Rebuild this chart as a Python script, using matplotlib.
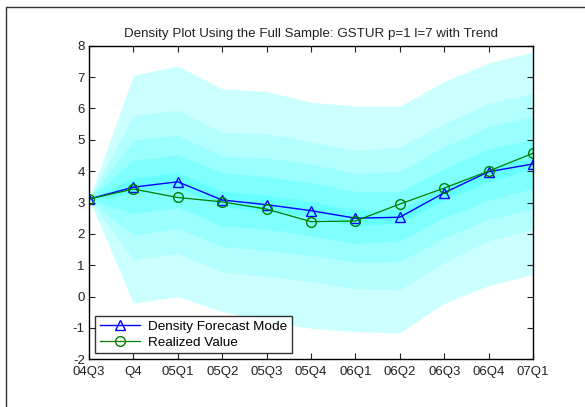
import matplotlib
matplotlib.use('Agg')
import matplotlib.pyplot as plt
from matplotlib.patches import Rectangle
import numpy as np

plt.rcParams['font.family'] = ['Liberation Sans', 'DejaVu Sans']
plt.rcParams['axes.unicode_minus'] = False

quarters = ['04Q3', 'Q4', '05Q1', '05Q2', '05Q3', '05Q4', '06Q1', '06Q2', '06Q3', '06Q4', '07Q1']

# fan band edges, outermost first (upper / lower)
upper_bands = [
    [3.1, 7.06, 7.35, 6.62, 6.54, 6.20, 6.07, 6.07, 6.86, 7.45, 7.80],
    [3.1, 5.78, 5.94, 5.24, 5.20, 4.93, 4.66, 4.78, 5.52, 6.16, 6.48],
    [3.1, 4.99, 5.14, 4.48, 4.42, 4.22, 3.93, 3.99, 4.78, 5.41, 5.75],
    [3.1, 4.35, 4.51, 3.94, 3.83, 3.62, 3.35, 3.35, 4.09, 4.70, 5.02],
    [3.1, 3.78, 3.96, 3.35, 3.24, 3.03, 2.76, 2.76, 3.50, 4.09, 4.46],
]
lower_bands = [
    [3.1, -0.21, 0.0, -0.48, -0.78, -1.01, -1.12, -1.16, -0.21, 0.35, 0.71],
    [3.1, 1.18, 1.38, 0.78, 0.64, 0.48, 0.25, 0.22, 1.08, 1.78, 2.15],
    [3.1, 1.96, 2.17, 1.60, 1.47, 1.31, 1.10, 1.12, 1.88, 2.47, 2.81],
    [3.1, 2.65, 2.84, 2.26, 2.15, 1.93, 1.70, 1.78, 2.52, 3.08, 3.45],
    [3.1, 3.29, 3.48, 2.87, 2.70, 2.55, 2.25, 2.34, 3.08, 3.66, 4.09],
]
band_colors = ['#ccffff', '#b3ffff', '#99ffff', '#80ffff', '#66ffff']

mode = [3.11, 3.49, 3.66, 3.08, 2.93, 2.74, 2.50, 2.53, 3.31, 3.98, 4.23]
realized = [3.11, 3.43, 3.16, 3.02, 2.79, 2.39, 2.41, 2.95, 3.46, 4.00, 4.57]

fig = plt.figure(figsize=(5.85, 4.07), dpi=100)
fig.patches.append(Rectangle((6/585, -0.5), 2, 0.5 + 1 - 7/407, transform=fig.transFigure,
                             fill=False, edgecolor='#333333', linewidth=1.0))
ax = fig.add_axes([89/585, 1 - 359.3/407, 444/585, (359.3 - 45.7)/407])

x = np.arange(len(quarters))
for up, lo, c in zip(upper_bands, lower_bands, band_colors):
    ax.fill_between(x, lo, up, color=c, linewidth=0)

ax.plot(x, mode, color='#0000ff', marker='^', markersize=7.5, markerfacecolor='none',
        linewidth=1.0, label='Density Forecast Mode')
ax.plot(x, realized, color='#007f00', marker='o', markersize=7, markerfacecolor='none',
        linewidth=0.9, label='Realized Value')

ax.set_xlim(0, len(quarters) - 1)
ax.set_ylim(-2, 8)
ax.set_xticks(x)
ax.set_xticklabels(quarters)
ax.set_yticks(range(-2, 9))
ax.tick_params(direction='in', top=True, right=True, labelsize=9.5, length=4, width=0.8,
               colors='#222222')
ax.tick_params(axis='x', pad=5)
ax.tick_params(axis='y', pad=3)
for s in ax.spines.values():
    s.set_linewidth(1.0)
ax.set_title('Density Plot Using the Full Sample: GSTUR p=1 l=7 with Trend', fontsize=9.6,
             pad=6, color='#222222')

leg = ax.legend(loc='lower left', fontsize=9.7, frameon=True, fancybox=False,
                edgecolor='black', borderaxespad=0.45, handlelength=3.0,
                borderpad=0.35, labelspacing=0.25, handletextpad=0.6)
leg.get_frame().set_linewidth(1.0)

fig.savefig('out.png', dpi=100)
